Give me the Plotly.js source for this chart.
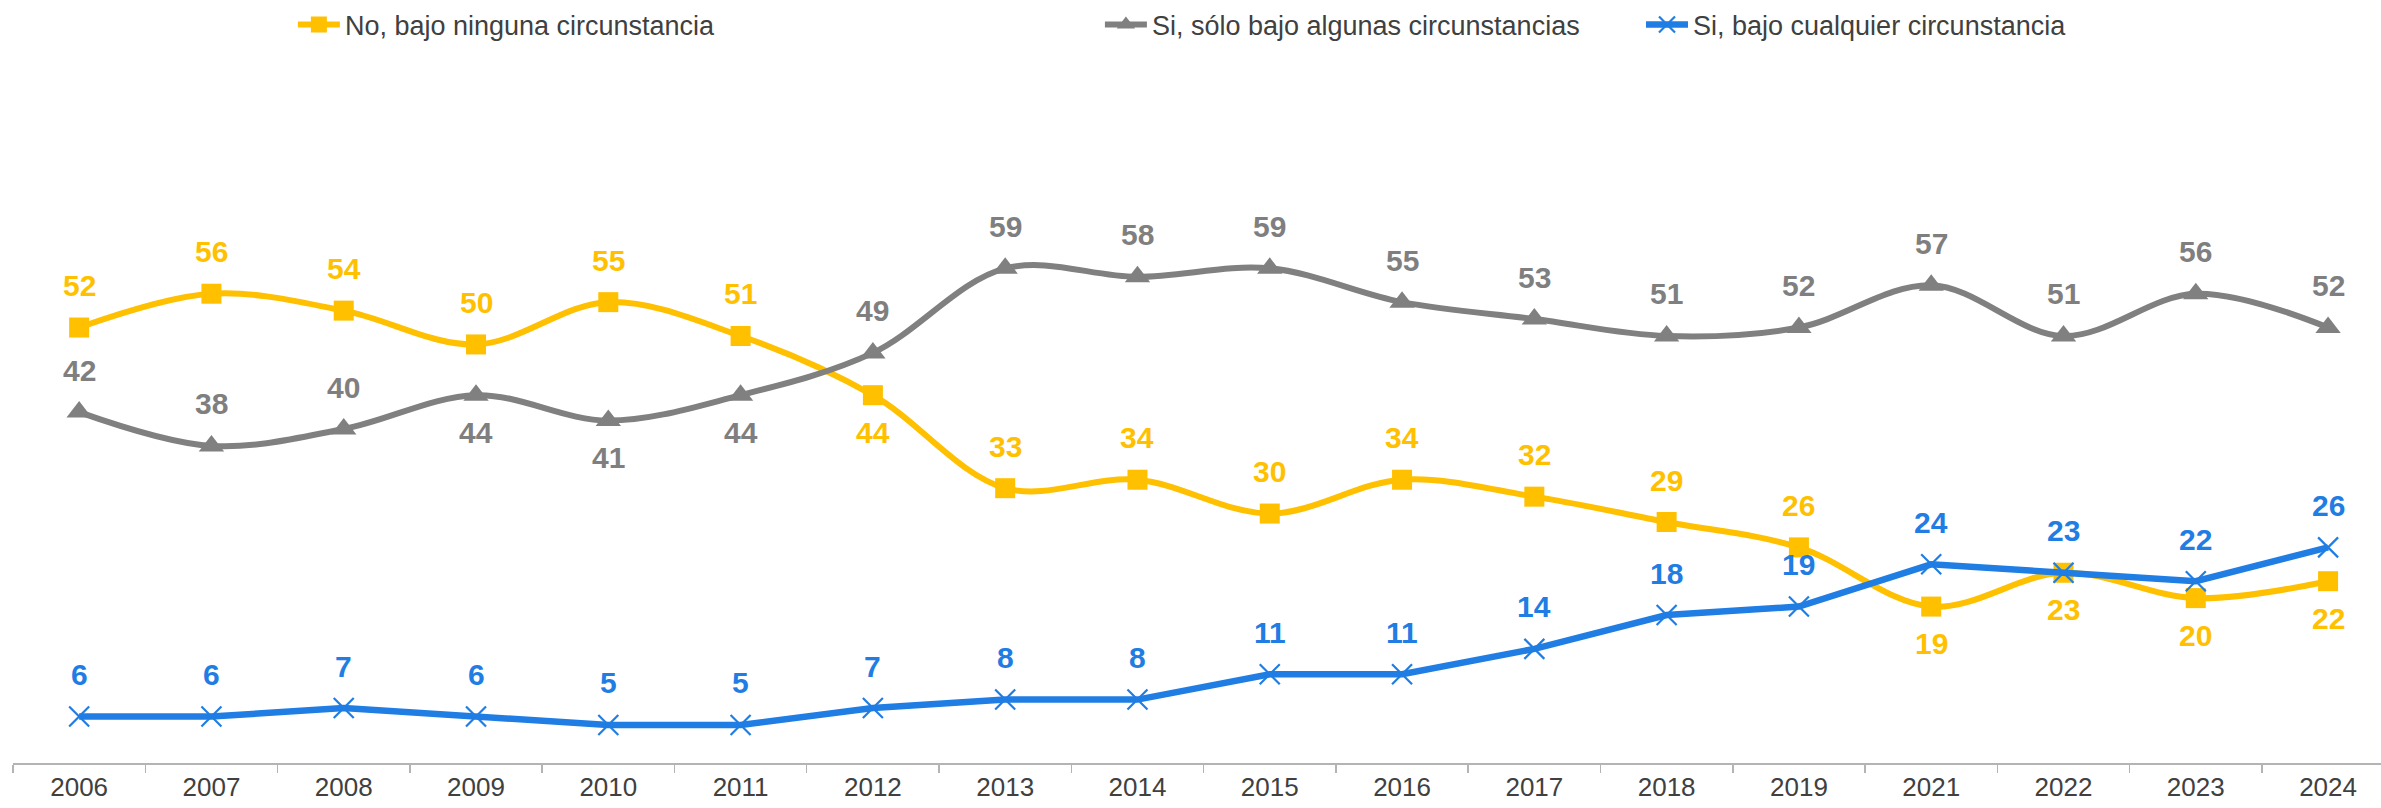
<!DOCTYPE html>
<html>
<head>
<meta charset="utf-8">
<script src="https://cdn.plot.ly/plotly-3.0.1.min.js"></script>
<style>
html,body{margin:0;padding:0;background:#fff;overflow:hidden;}
#chart{width:2381px;height:808px;}
</style>
</head>
<body>
<div id="chart"></div>
<script>
// ---- data ----
const years = ["2006","2007","2008","2009","2010","2011","2012","2013","2014","2015","2016","2017","2018","2019","2021","2022","2023","2024"];
const seriesNames = ["No, bajo ninguna circunstancia","Si, sólo bajo algunas circunstancias","Si, bajo cualquier circunstancia"];
const noValues   = [52,56,54,50,55,51,44,33,34,30,34,32,29,26,19,23,20,22];
const someValues = [42,38,40,44,41,44,49,59,58,59,55,53,51,52,57,51,56,52];
const anyValues  = [6,6,7,6,5,5,7,8,8,11,11,14,18,19,24,23,22,26];

// label placement (1 = above, -1 = below)
const noLabelSide   = [1,1,1,1,1,1,-1,1,1,1,1,1,1,1,-1,-1,-1,-1];
const someLabelSide = [1,1,1,-1,-1,-1,1,1,1,1,1,1,1,1,1,1,1,1];
const anyLabelSide  = [1,1,1,1,1,1,1,1,1,1,1,1,1,1,1,1,1,1];

const YELLOW = "#FFC000", GRAY = "#808080", BLUE = "#1F7DE3";

const traces = [
  {x: years, y: noValues, name: seriesNames[0], type: "scatter", mode: "lines+markers",
   line: {color: YELLOW, width: 6, shape: "spline", smoothing: 1},
   marker: {symbol: "square", size: 20, color: YELLOW}, legend: "legend"},
  {x: years, y: someValues, name: seriesNames[1], type: "scatter", mode: "lines+markers",
   line: {color: GRAY, width: 6, shape: "spline", smoothing: 1},
   marker: {symbol: "triangle-up", size: 22, color: GRAY}, legend: "legend2"},
  {x: years, y: anyValues, name: seriesNames[2], type: "scatter", mode: "lines+markers",
   line: {color: BLUE, width: 6.5},
   marker: {symbol: "x-thin", size: 20, color: BLUE, line: {color: BLUE, width: 2.2}}, legend: "legend3"}
];

// category index i on the x axis corresponds to years[i]
function labels(vals, sides, color) {
  return vals.map(function(v, i) {
    return {
      x: years.indexOf(years[i]), y: v, xref: "x", yref: "y", text: "<b>" + v + "</b>", showarrow: false,
      yshift: sides[i] > 0 ? 42 : -37, yanchor: "middle", xanchor: "center",
      font: {family: "Liberation Sans, Arial, sans-serif", size: 30, color: color}
    };
  });
}
const annotations = [].concat(
  labels(noValues, noLabelSide, YELLOW),
  labels(someValues, someLabelSide, "#7F7F7F"),
  labels(anyValues, anyLabelSide, BLUE)
);

function legendAt(x) {
  return {orientation: "h", yanchor: "middle", y: 1.105, xanchor: "left", x: x,
    font: {family: "Liberation Sans, Arial, sans-serif", size: 27, color: "#404040"},
    itemwidth: 42, bgcolor: "rgba(0,0,0,0)", borderwidth: 0};
}

const layout = {
  width: 2381, height: 808,
  margin: {l: 13, r: 0, t: 85, b: 45, pad: 0},
  paper_bgcolor: "#fff", plot_bgcolor: "#fff",
  showlegend: true,
  legend: legendAt(0.1182),
  legend2: legendAt(0.459),
  legend3: legendAt(0.6875),
  xaxis: {type: "category", range: [-0.5, 17.4], tickson: "boundaries",
    showline: true, linecolor: "#B4B4B4", linewidth: 2,
    ticks: "outside", ticklen: 8, tickwidth: 1.5, tickcolor: "#B4B4B4",
    showgrid: false, zeroline: false, fixedrange: true,
    tickfont: {family: "Liberation Sans, Arial, sans-serif", size: 26, color: "#404040"}},
  yaxis: {range: [0.5, 79.5], visible: false, showgrid: false, zeroline: false, fixedrange: true},
  annotations: annotations
};

Plotly.newPlot("chart", traces, layout, {displayModeBar: false, staticPlot: true});
</script>
</body>
</html>
